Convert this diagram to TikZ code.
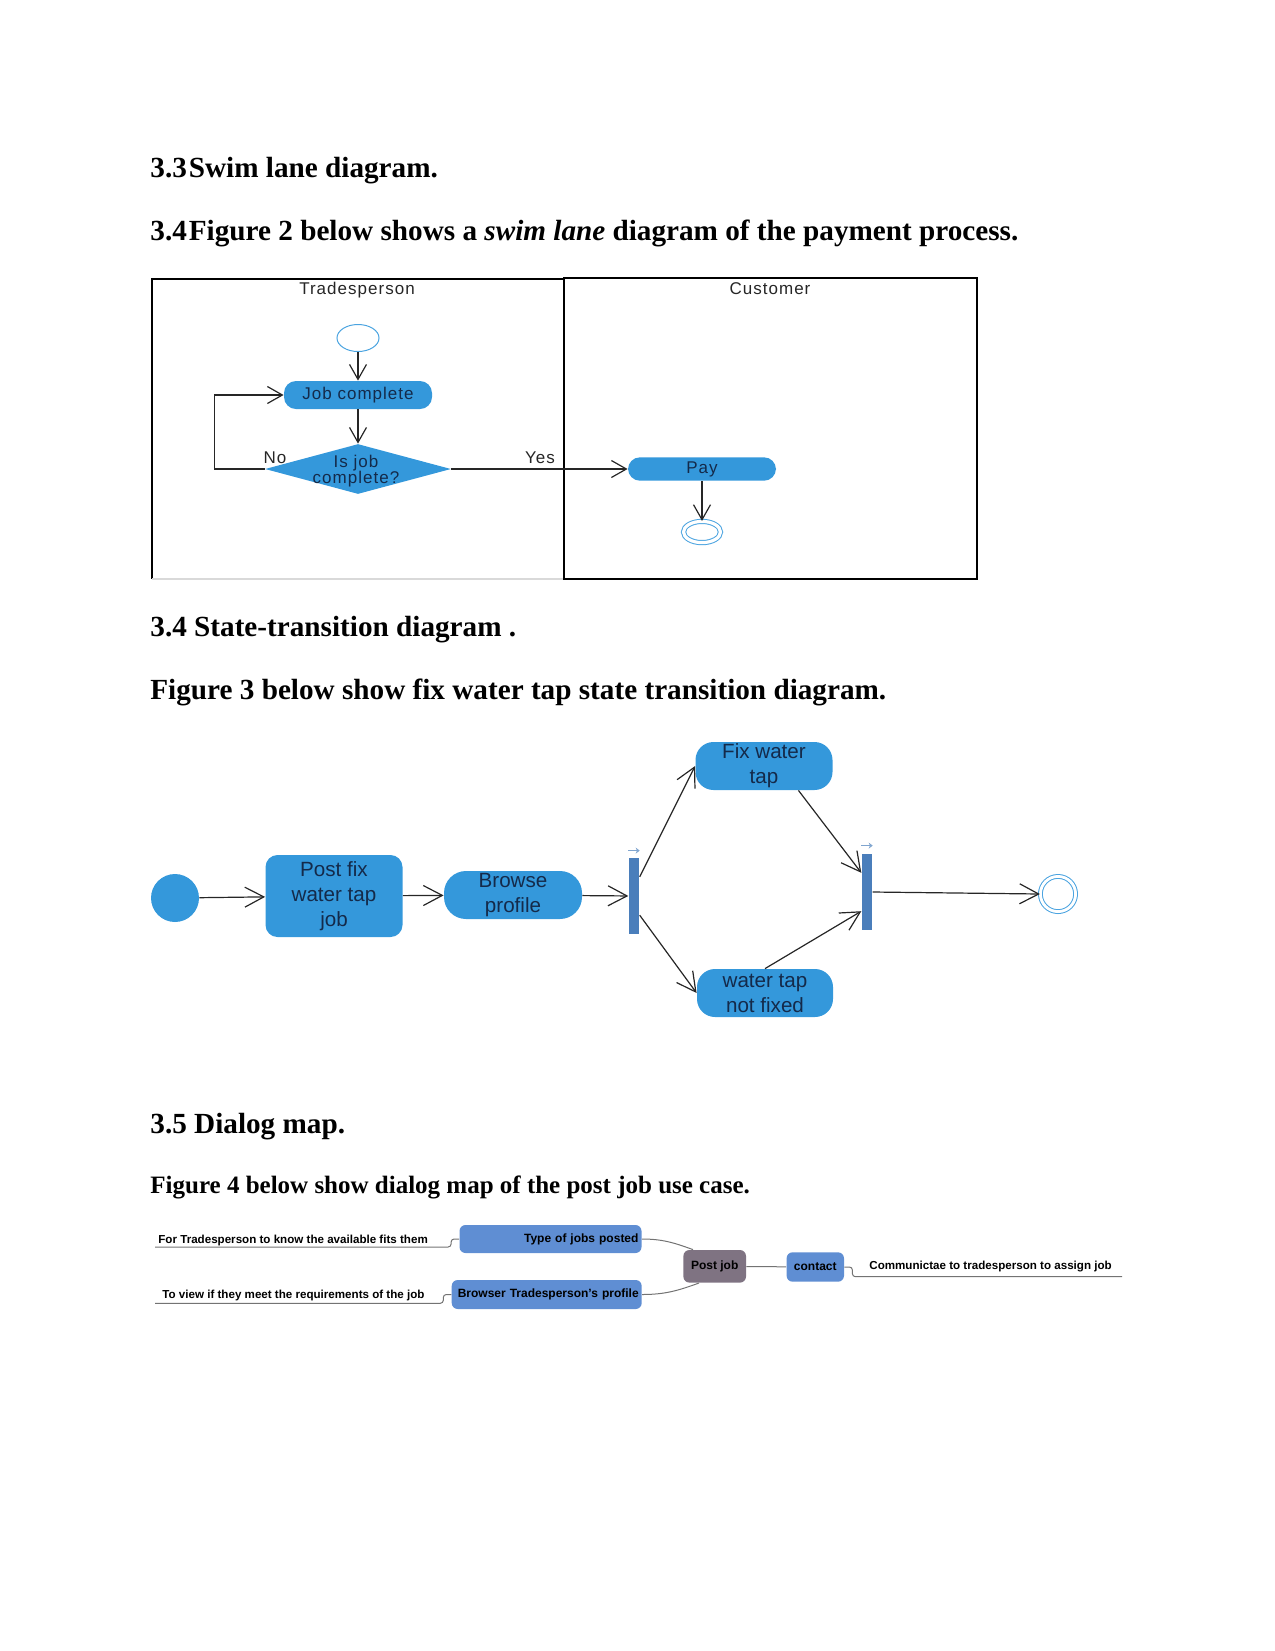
\documentclass[tikz,border=0pt]{standalone}
\usepackage{fontspec}
\setmainfont{Liberation Serif}
\setsansfont{Liberation Sans}
\newfontfamily\lanefont{Liberation Sans}[LetterSpace=6]
\usetikzlibrary{arrows.meta,shapes.geometric,calc}
\definecolor{actblue}{HTML}{3498DB}
\definecolor{barblue}{HTML}{4A7EBB}
\definecolor{mapblue}{HTML}{5F8ED3}
\definecolor{mapgrey}{HTML}{7F7382}
\definecolor{navy}{HTML}{142A4A}
\definecolor{ringblue}{HTML}{4AA3E0}
\begin{document}
\begin{tikzpicture}[x=0.5pt, y=-0.5pt, >={Straight Barb[length=7.5pt,width=8.5pt]},
  head/.style={anchor=base west, inner sep=0, font=\bfseries\fontsize{14.6}{17}\selectfont},
  lanetxt/.style={inner sep=0, text=black!85, font=\lanefont\fontsize{8.5}{8.3}\selectfont},
  act/.style={fill=actblue, rounded corners=6pt, text=navy, inner sep=0, font=\lanefont\fontsize{8.5}{9}\selectfont},
  decide/.style={diamond, fill=actblue, inner sep=0, minimum width=93pt, minimum height=25pt},
  startel/.style={ellipse, draw=ringblue, line width=0.5pt, inner sep=0, minimum width=21pt, minimum height=13.5pt},
  endel/.style={ellipse, draw=ringblue, double=white, double distance=1.6pt, line width=0.5pt, inner sep=0, minimum width=18.5pt, minimum height=10.6pt},
  flow/.style={draw=black!85, line width=0.6pt},
  state/.style={fill=actblue, text=navy, align=center, inner sep=0, font=\sffamily\fontsize{10.3}{12.5}\selectfont},
  initst/.style={circle, fill=actblue, inner sep=0, minimum size=24pt},
  finst/.style={circle, draw=ringblue, double=white, double distance=1.4pt, line width=0.5pt, inner sep=0, minimum size=17.6pt},
  bar/.style={fill=barblue, inner sep=0, minimum width=5.3pt, minimum height=38pt},
  trans/.style={>={Straight Barb[length=9.5pt,width=10pt]}, ->, draw=black!85, line width=0.6pt},
  hint/.style={>={Stealth[length=2pt,width=3pt]}, ->, draw=barblue!70, line width=0.6pt},
  dlgbox/.style={fill=mapblue, rounded corners=3pt, inner sep=0, font=\sffamily\bfseries\fontsize{6}{7}\selectfont},
  dlgnote/.style={anchor=west, inner sep=0, font=\sffamily\bfseries\fontsize{5.8}{7}\selectfont},
  dlgline/.style={draw=black!55, line width=0.5pt, rounded corners=1.5pt}
]
\useasboundingbox (0,0) rectangle (1275,1651);

% headings
\node[head] (h1) at (150,177) {3.3\hspace{1pt}Swim lane diagram.};
\node[head] (h2) at (150,240) {3.4\hspace{1pt}Figure 2 below shows a \textit{swim lane} diagram of the payment process.};
\node[head] (h3) at (150,636) {3.4 State-transition diagram .};
\node[head] (h4) at (150,699) {Figure 3 below show fix water tap state transition diagram.};
\node[head] (h5) at (150,1133) {3.5 Dialog map.};
\node[head, font=\bfseries\fontsize{12.5}{15}\selectfont] (h6) at (150,1193) {Figure 4 below show dialog map of the post job use case.};

% swim lanes
\draw[line width=0.8pt] (564,279) -- (152,279) -- (152,579);
\draw[line width=0.8pt, black!15] (152,579) -- (564,579);
\draw[line width=0.8pt] (564,278) rectangle (977,579);
\node[lanetxt] (tp) at (357,290) {Tradesperson};
\node[lanetxt] (cu) at (770,289) {Customer};

\node[startel] (s1) at (358,338) {};
\node[act, minimum width=74pt, minimum height=14pt] (jobc) at (358,395) {Job complete};
\node[decide] (chk) at (358,469) {};
\node[lanetxt, text=navy, align=center] (chkt) at (356,471) {Is job\\complete?};
\node[act, minimum width=74pt, minimum height=11.7pt] (pay) at (702,469) {Pay};
\node[endel] (e1) at (702,532) {};
\node[lanetxt] (no) at (275,458) {No};
\node[lanetxt] (yes) at (540,458) {Yes};

\draw[flow,->] (s1) -- (jobc);
\draw[flow,->] (jobc) -- (chk);
\draw[flow,->] (chk.west) -- ++(-50,0) |- (jobc.west);
\draw[flow,->] (chk.east) -- (pay.west);
\draw[flow,->] (pay) -- (e1);

% state transitions
\node[initst] (ini) at (175,898) {};
\node[state, rounded corners=6pt, minimum width=68.5pt, minimum height=41pt] (post) at (334,896) {Post fix\\water tap\\job};
\node[state, rounded corners=11pt, minimum width=69pt, minimum height=24pt] (browse) at (513,895) {Browse\\profile};
\node[bar] (fork) at (634,896) {};
\node[state, rounded corners=9pt, minimum width=68.5pt, minimum height=24pt] (fix) at (764,766) {Fix water\\tap};
\node[state, rounded corners=9pt, minimum width=68pt, minimum height=24pt] (notfix) at (765,993) {water tap\\not fixed};
\node[bar] (join) at (867,892) {};
\node[finst] (fin) at (1058,894) {};

\draw[trans] (ini) -- (post);
\draw[trans] (post) -- (browse);
\draw[trans] (browse) -- (fork);
\draw[trans] ($(fork.north east)!0.25!(fork.south east)$) -- (fix.west);
\draw[trans] ($(fork.north east)!0.75!(fork.south east)$) -- (notfix.west);
\draw[trans] ($(fix.south)!0.5!(fix.south east)$) -- ($(join.north west)!0.25!(join.south west)$);
\draw[trans] (notfix.north) -- ($(join.north west)!0.75!(join.south west)$);
\draw[trans] (join.east) -- (fin.west);
\draw[hint] ([yshift=3.5pt]fork.north west) -- ([yshift=3.5pt]fork.north east);
\draw[hint] ([yshift=4pt]join.north west) -- ([yshift=4pt]join.north east);

% dialog map
\node[dlgbox, minimum width=91pt, minimum height=14pt, text width=88pt, align=right] (types) at (550.5,1239) {Type of jobs posted};
\node[dlgbox, minimum width=95pt, minimum height=14.5pt, text width=92pt, align=right] (browser) at (546.7,1294.5) {Browser Tradesperson's profile};
\node[dlgbox, fill=mapgrey, minimum width=31.3pt, minimum height=16.3pt, align=center] (postjob) at (714.7,1266.3) {Post job};
\node[dlgbox, minimum width=28.7pt, minimum height=14.7pt, align=center] (contact) at (815.3,1267) {contact};
\node[dlgnote] (n1) at (158,1240) {For Tradesperson to know the available fits them};
\node[dlgnote] (n2) at (162,1295) {To view if they meet the requirements of the job};
\node[dlgnote] (n3) at (869,1267) {Communictae to tradesperson to assign job};
\coordinate (u1) at (155,1247);
\coordinate (u2) at (155,1303.3);
\coordinate (u3) at (1122,1276.7);

\draw[dlgline] (types.west) -- ++(-8,0) |- (u1);
\draw[dlgline] (browser.west) -- ++(-8,0) |- (u2);
\draw[dlgline] (types.east) to[out=0, in=160] ([xshift=5pt]postjob.north west);
\draw[dlgline] (browser.east) to[out=0, in=200] ([xshift=8pt]postjob.south west);
\draw[dlgline] (postjob) -- (contact);
\draw[dlgline] (contact.east) -- ++(8,0) |- (u3);
\end{tikzpicture}
\end{document}
